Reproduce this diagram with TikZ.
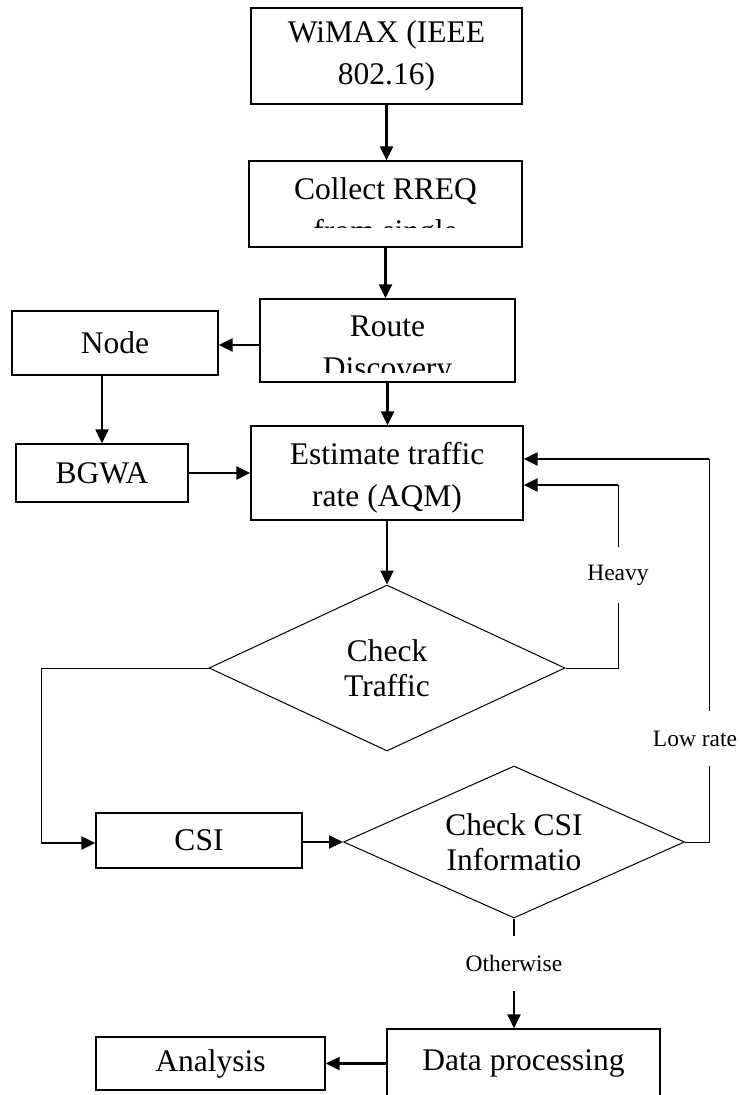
\documentclass[tikz,border=0pt]{standalone}
\usepackage{fontspec}
\setmainfont{Liberation Serif}
\usetikzlibrary{arrows.meta,positioning,calc,shapes.geometric}

\begin{document}
\begin{tikzpicture}[
  x=1pt, y=-1pt,
  box/.style={draw, line width=1.3pt, inner sep=0pt, align=center, font=\fontsize{31.5}{42}\selectfont},
  txt/.style={inner sep=0pt, align=center, font=\fontsize{31.5}{42}\selectfont},
  decision/.style={diamond, draw, line width=1pt, aspect=2.25, inner sep=0pt, align=center, font=\fontsize{31.5}{35}\selectfont},
  lbl/.style={inner sep=0pt, minimum height=55pt, font=\fontsize{23.5}{28}\selectfont},
  arrow/.style={line width=2.2pt, -{Triangle[length=14pt,width=13pt]}},
  link/.style={line width=1pt}
]
\clip (0,0) rectangle (739,1095);

\node[box, minimum width=271pt, minimum height=96pt] (wimax) at (386.5,56) {WiMAX (IEEE\\802.16)};
\node[box, minimum width=273pt, minimum height=86pt] (collect) at (385.5,204) {};
\node[box, minimum width=255pt, minimum height=83pt] (route) at (387.5,340.5) {};
\node[box, minimum width=206pt, minimum height=64pt] (node) at (115,343) {Node};
\node[box, minimum width=172pt, minimum height=58pt] (bgwa) at (102,473) {BGWA};
\node[box, minimum width=272pt, minimum height=94pt] (estimate) at (387,473) {};
\node[txt] (estimatetxt) at ([yshift=-5pt]estimate.center) {Estimate traffic\\rate (AQM)};
\node[decision, minimum width=356pt, minimum height=166pt] (traffic) at (387,668) {Check\\Traffic};
\node[box, minimum width=206pt, minimum height=55pt] (csi) at (199,840.5) {CSI};
\node[decision, minimum width=341pt, minimum height=152pt] (csiinfo) at (514,842) {Check CSI\\Informatio};
\node[box, minimum width=273pt, minimum height=69pt] (data) at (523.5,1063.5) {Data processing};
\node[box, minimum width=229pt, minimum height=53pt] (analysis) at (210.5,1063.5) {Analysis};

% text running over the bottom of the box is cut off
\begin{scope}
  \clip (collect.north west) rectangle ([yshift=20pt]collect.south east);
  \node[txt] (collecttxt) at ([yshift=-9pt]collect.center) {Collect RREQ\\from single};
\end{scope}
\begin{scope}
  \clip (route.north west) rectangle ([yshift=10pt]route.south east);
  \node[txt] (routetxt) at ([yshift=-10pt]route.center) {Route\\Discovery};
\end{scope}

\node[lbl] (heavy) at (618,575) {Heavy};
\node[lbl] (low) at (695,738.5) {Low rate};
\node[lbl] (other) at (514,963.5) {Otherwise};
\coordinate (hv) at (618,485);
\coordinate (lr) at (709,459);
\coordinate (lf) at (41,843);

\draw[arrow] (wimax.south) -- (wimax.south |- collect.north);
\draw[arrow] (collect.south) -- (collect.south |- route.north);
\draw[arrow] ([yshift=-2pt]route.west |- node.east) -- ([yshift=-2pt]node.east);
\draw[arrow] (node.south -| bgwa.north) -- (bgwa.north);
\draw[arrow] (bgwa.east) -- (bgwa.east -| estimate.west);
\draw[arrow] (route.south) -- (route.south |- estimate.north);
\draw[arrow] (estimate.south) -- (traffic.north);

% heavy traffic goes back
\draw[link] (traffic.east) -| (heavy.south -| hv);
\draw[link] (heavy.north -| hv) -- (hv);
\draw[arrow] (hv) -- (hv -| estimate.east);

% otherwise to CSI
\draw[link] (traffic.west) -| (lf);
\draw[arrow] (lf) -- (lf -| csi.west);
\draw[arrow] (csi.east |- csiinfo.west) -- (csiinfo.west);

% low rate goes back
\draw[link] (csiinfo.east) -| (low.south -| lr);
\draw[link] (low.north -| lr) -- (lr);
\draw[arrow] (lr) -- (lr -| estimate.east);

\draw[line width=2.2pt] (csiinfo.south) -- (other.north);
\draw[arrow] (other.south) -- (other.south |- data.north);
\draw[arrow] (data.west |- analysis.east) -- (analysis.east);

\end{tikzpicture}
\end{document}
